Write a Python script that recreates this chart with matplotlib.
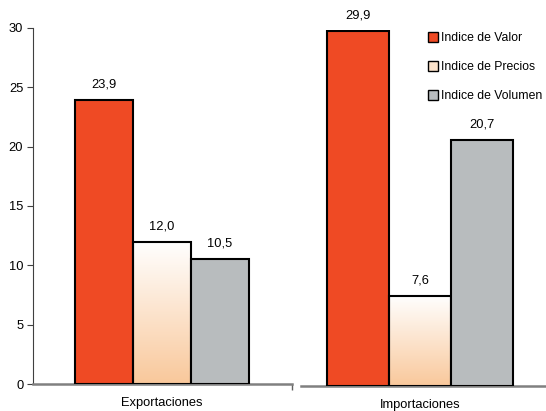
import numpy as np
import matplotlib
matplotlib.use("Agg")
import matplotlib.pyplot as plt
from matplotlib.patches import Patch
from matplotlib.colors import to_rgb

plt.rcParams['font.family'] = ['Liberation Sans', 'DejaVu Sans']
plt.rcParams['font.size'] = 9.3

groups = ["Exportaciones", "Importaciones"]
series = ["Indice de Valor", "Indice de Precios", "Indice de Volumen"]
exportaciones = [23.9, 12.0, 10.5]
importaciones = [29.9, 7.6, 20.7]
yticks = [0, 5, 10, 15, 20, 25, 30]

red = "#EF4A24"
gray = "#B8BCBE"
peach = "#F9C89B"

W, H = 546, 411
fig = plt.figure(figsize=(W / 100, H / 100), dpi=100)


def gradient_bar(ax, x, h, width):
    top = np.array(to_rgb("white"))
    bot = np.array(to_rgb(peach))
    t = np.linspace(0, 1, 256)[:, None]
    img = (top * (1 - t) + bot * t)[:, None, :]
    bar = ax.bar(x, h, width=width, facecolor="none", edgecolor="black",
                 linewidth=1.5, zorder=3)[0]
    im = ax.imshow(img, extent=[x - width / 2, x + width / 2, 0, h],
                   aspect="auto", zorder=2, interpolation="bicubic")
    im.set_clip_path(bar)
    return bar


def panel(rect, values, xlim, label, show_y):
    ax = fig.add_axes(rect)
    x = np.arange(3)
    ax.bar(x[0], values[0], width=1, color=red, edgecolor="black", linewidth=1.5, zorder=3)
    gradient_bar(ax, x[1], values[1], 1)
    ax.bar(x[2], values[2], width=1, color=gray, edgecolor="black", linewidth=1.5, zorder=3)
    for xi, v in zip(x, values):
        ax.text(xi, v + 0.8, f"{v:.1f}".replace(".", ","), ha="center",
                va="bottom")
    ax.set_xlim(*xlim)
    ax.set_ylim(0, 30)
    for s in ["top", "right"]:
        ax.spines[s].set_visible(False)
    ax.spines["bottom"].set_color("#808080")
    ax.spines["bottom"].set_linewidth(1.8)
    ax.set_xticks([1])
    ax.set_xticklabels([label])
    ax.tick_params(axis="x", length=0, pad=9)
    if show_y:
        ax.set_yticks(yticks)
        ax.spines["left"].set_color("#404040")
        ax.spines["left"].set_linewidth(0.8)
        ax.tick_params(axis="y", length=4, width=0.8, color="#404040", pad=3)
        ax.set_xticks([xlim[1]], minor=True)
        ax.tick_params(axis="x", which="minor", length=4, width=1, color="#606060")
    else:
        ax.spines["left"].set_visible(False)
        ax.set_yticks([])
    ax.set_facecolor("none")
    return ax


# left panel: axis from x=33 to 292 px, bars 58 px wide starting at 75 px
u1 = 58
panel([33 / W, (H - 384) / H, 259 / W, 356 / H], exportaciones,
      (-0.5 - (75 - 33) / u1, 2.5 + (292 - 249) / u1), groups[0], True)

# right panel: axis from x=301 to 546 px, bars 62 px wide starting at 327 px
u2 = 62
panel([301 / W, (H - 386) / H, 245 / W, 356 / H], importaciones,
      (-0.5 - (327 - 301) / u2, 2.5 + (546 - 513) / u2), groups[1], False)

handles = [Patch(facecolor=red, edgecolor="black", linewidth=1),
           Patch(facecolor="#FDE4CC", edgecolor="black", linewidth=1),
           Patch(facecolor=gray, edgecolor="black", linewidth=1)]
fig.legend(handles, series, loc="upper left", bbox_to_anchor=(423 / W, 1 - 27 / H),
           frameon=False, fontsize=8.8, handlelength=0.85, handleheight=0.85,
           handletextpad=0.2, labelspacing=1.38, borderaxespad=0)

fig.savefig("out.png", dpi=100)
